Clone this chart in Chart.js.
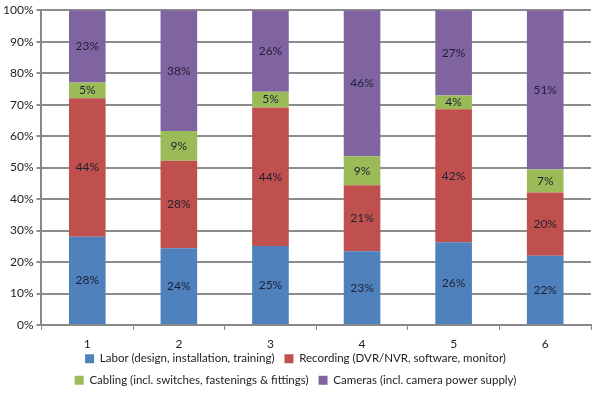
<!DOCTYPE html>
<html>
<head>
<meta charset="utf-8">
<script src="https://cdn.jsdelivr.net/npm/chart.js@4"></script>
<style>
  html, body { margin: 0; padding: 0; background: #fff; }
  #wrap { width: 592px; height: 396px; }
</style>
</head>
<body>
<div id="wrap"><canvas id="costChart" width="592" height="396"></canvas></div>
<script>
const categories = ["1", "2", "3", "4", "5", "6"];
const labor = [28, 24.4, 25.1, 23.4, 26.3, 22];
const recording = [44, 27.8, 44, 21, 42.2, 20.1];
const cabling = [5, 9.4, 5, 9.2, 4.4, 7.3];
const cameras = [23, 38.4, 25.9, 46.4, 27.1, 50.6];
const yTicks = [0, 10, 20, 30, 40, 50, 60, 70, 80, 90, 100];

const fontFamily = "Lato, 'DejaVu Sans', sans-serif";

// draws the percentage in the middle of each stacked segment
const segmentLabels = {
  id: "segmentLabels",
  afterDatasetsDraw(chart) {
    const ctx = chart.ctx;
    ctx.save();
    ctx.font = "12px " + fontFamily;
    ctx.fillStyle = "#1f1f33";
    ctx.textAlign = "center";
    ctx.textBaseline = "middle";
    chart.data.datasets.forEach((ds, i) => {
      const meta = chart.getDatasetMeta(i);
      meta.data.forEach((bar, j) => {
        const mid = (bar.y + bar.base) / 2;
        ctx.fillText(Math.round(ds.data[j]) + "%", bar.x, mid);
      });
    });
    ctx.restore();
  }
};

// the x axis is squeezed so the legend sits close; let its labels overflow the box
const looseXLabels = {
  id: "looseXLabels",
  afterLayout(chart) {
    chart.scales.x.bottom = chart.scales.x.top + 32;
  }
};

new Chart(document.getElementById("costChart"), {
  type: "bar",
  data: {
    labels: categories,
    datasets: [
      { label: "Labor (design, installation, training)", data: labor, backgroundColor: "#4f81bd" },
      { label: "Recording (DVR/NVR, software, monitor)", data: recording, backgroundColor: "#c0504d" },
      { label: "Cabling (incl. switches, fastenings & fittings)", data: cabling, backgroundColor: "#9bbb59" },
      { label: "Cameras (incl. camera power supply)", data: cameras, backgroundColor: "#8064a2" }
    ]
  },
  options: {
    responsive: false,
    animation: false,
    layout: { padding: { top: 9, right: 1, left: 0, bottom: 0 } },
    datasets: {
      bar: { categoryPercentage: 1, barPercentage: 0.4 }
    },
    plugins: {
      tooltip: { enabled: false },
      legend: {
        position: "bottom",
        labels: {
          font: { family: fontFamily, size: 11.5 },
          color: "#222",
          boxWidth: 9,
          boxHeight: 9,
          padding: 10
        }
      }
    },
    scales: {
      x: {
        stacked: true,
        afterFit(axis) {
          axis.height = 18;
        },
        grid: {
          offset: true,
          drawOnChartArea: false,
          drawTicks: true,
          tickLength: 5,
          color: "#888",
          lineWidth: 1
        },
        border: { color: "#888", width: 2 },
        ticks: { font: { family: fontFamily, size: 12 }, color: "#222", padding: 7 }
      },
      y: {
        stacked: true,
        min: 0,
        max: 100,
        afterBuildTicks(axis) {
          axis.ticks = yTicks.map(v => ({ value: v }));
        },
        grid: {
          color: "#8c8c8c",
          lineWidth: 2,
          tickLength: 5
        },
        border: { color: "#888", width: 2 },
        ticks: {
          font: { family: fontFamily, size: 12 },
          color: "#222",
          padding: 3,
          callback: v => v + "%"
        }
      }
    }
  },
  plugins: [segmentLabels, looseXLabels]
});
</script>
</body>
</html>
